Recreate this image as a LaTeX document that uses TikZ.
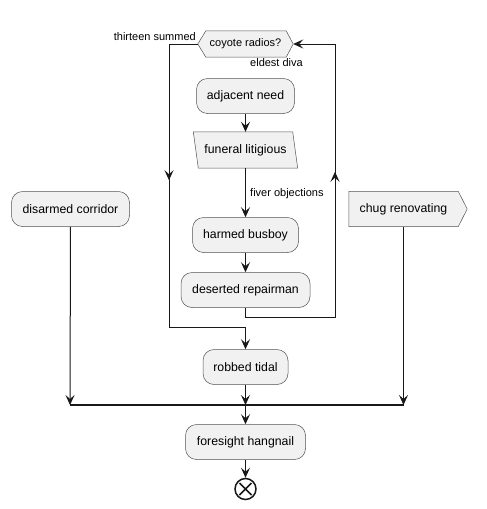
\documentclass[tikz,border=0pt]{standalone}
\usepackage{fontspec}
\setmainfont{Liberation Sans}
\usetikzlibrary{arrows.meta,decorations.markings,backgrounds}
\definecolor{boxfill}{HTML}{F1F1F1}
\definecolor{boxline}{HTML}{181818}
\begin{document}
\begin{tikzpicture}[x=1pt,y=-1pt,
  act/.style={draw=boxline!75, line width=0.5pt, fill=boxfill, rounded corners=11pt,
    minimum height=35pt, inner sep=0pt, font=\fontsize{12.3}{14}\selectfont},
  plain/.style={inner sep=0pt, minimum height=35pt, font=\fontsize{12.3}{14}\selectfont},
  shp/.style={draw=boxline!75, line width=0.5pt, fill=boxfill},
  tip/.tip={Stealth[length=10pt,width=9pt,inset=4pt]},
  wire/.style={draw=boxline, line width=1pt},
  conn/.style={wire, -tip},
  lbl/.style={font=\fontsize{11}{13}\selectfont, inner sep=0pt}]
\useasboundingbox (0,0) rectangle (487,509);

% nodes
\node[inner sep=0pt, minimum width=95pt, minimum height=26pt, font=\fontsize{11}{13}\selectfont] (hx) at (245.5,44) {coyote radios?};
\node[act, minimum width=98pt] (an) at (245.5,96) {adjacent need};
\node[plain, minimum width=104pt, minimum height=36pt] (fl) at (245.5,150) {funeral litigious};
\node[act, minimum width=106pt] (hb) at (245.5,235) {harmed busboy};
\node[act, minimum width=129pt] (dr) at (245.5,290) {deserted repairman};
\node[act, minimum width=85pt] (rt) at (245.5,367) {robbed tidal};
\node[act, minimum width=118pt] (dc) at (70.5,209) {disarmed corridor};
\node[plain, minimum width=109pt] (ch) at (403.5,209) {chug renovating};
\node[act, minimum width=120pt] (fh) at (245.5,442) {foresight hangnail};
\node[circle, draw=boxline, line width=1.5pt, minimum size=21pt, inner sep=0pt, fill=white] (en) at (245.5,489) {};

\begin{scope}[on background layer]
  \path[shp] (hx.west) -- ([xshift=8pt]hx.north west) -- ([xshift=-7pt]hx.north east)
    -- (hx.east) -- ([xshift=-7pt]hx.south east) -- ([xshift=8pt]hx.south west) -- cycle;
  \path[shp] (fl.north west) -- ([xshift=-5pt]fl.north east) -- (fl.south east)
    -- ([xshift=5pt]fl.south west) -- cycle;
  \path[shp] (ch.north west) -- (ch.north east) -- ([xshift=9pt]ch.east)
    -- (ch.south east) -- (ch.south west) -- cycle;
\end{scope}

\draw[line width=1.5pt, boxline] ([shift={(-6,-6)}]en.center) -- ([shift={(6,6)}]en.center)
  ([shift={(-6,6)}]en.center) -- ([shift={(6,-6)}]en.center);

% labels
\node[lbl, anchor=east] (l1) at (196,37) {thirteen summed};
\node[lbl, anchor=west] (l2) at (250,62.5) {eldest diva};
\node[lbl, anchor=west] (l3) at (250,194) {fiver objections};

% connectors
\draw[conn] (an) -- (fl);
\draw[conn] (fl) -- (hb);
\draw[conn] (hb) -- (dr);

\draw[conn, postaction={decorate},
  decoration={markings, mark=at position 165pt with {\arrow{tip}}}]
  (hx.west) -- (169,44) -- (169,327) -| (rt.north);

\draw[conn, postaction={decorate},
  decoration={markings, mark=at position 244pt with {\arrow{tip}}}]
  (dr.south) -- (245.5,317) -- (335,317) -- (335,44) -- (hx.east);

\coordinate (bl) at (70,405);
\coordinate (bm) at (245.5,405);
\coordinate (br) at (403.5,405);
\draw[line width=2pt, boxline] (bl) -- (br);
\draw[conn] (dc.south) -- (bl);
\draw[conn] (rt.south) -- (bm);
\draw[conn] (ch.south) -- (br);
\draw[conn] (bm) -- (fh.north);
\draw[conn] (fh.south) -- (en.north);
\end{tikzpicture}
\end{document}
